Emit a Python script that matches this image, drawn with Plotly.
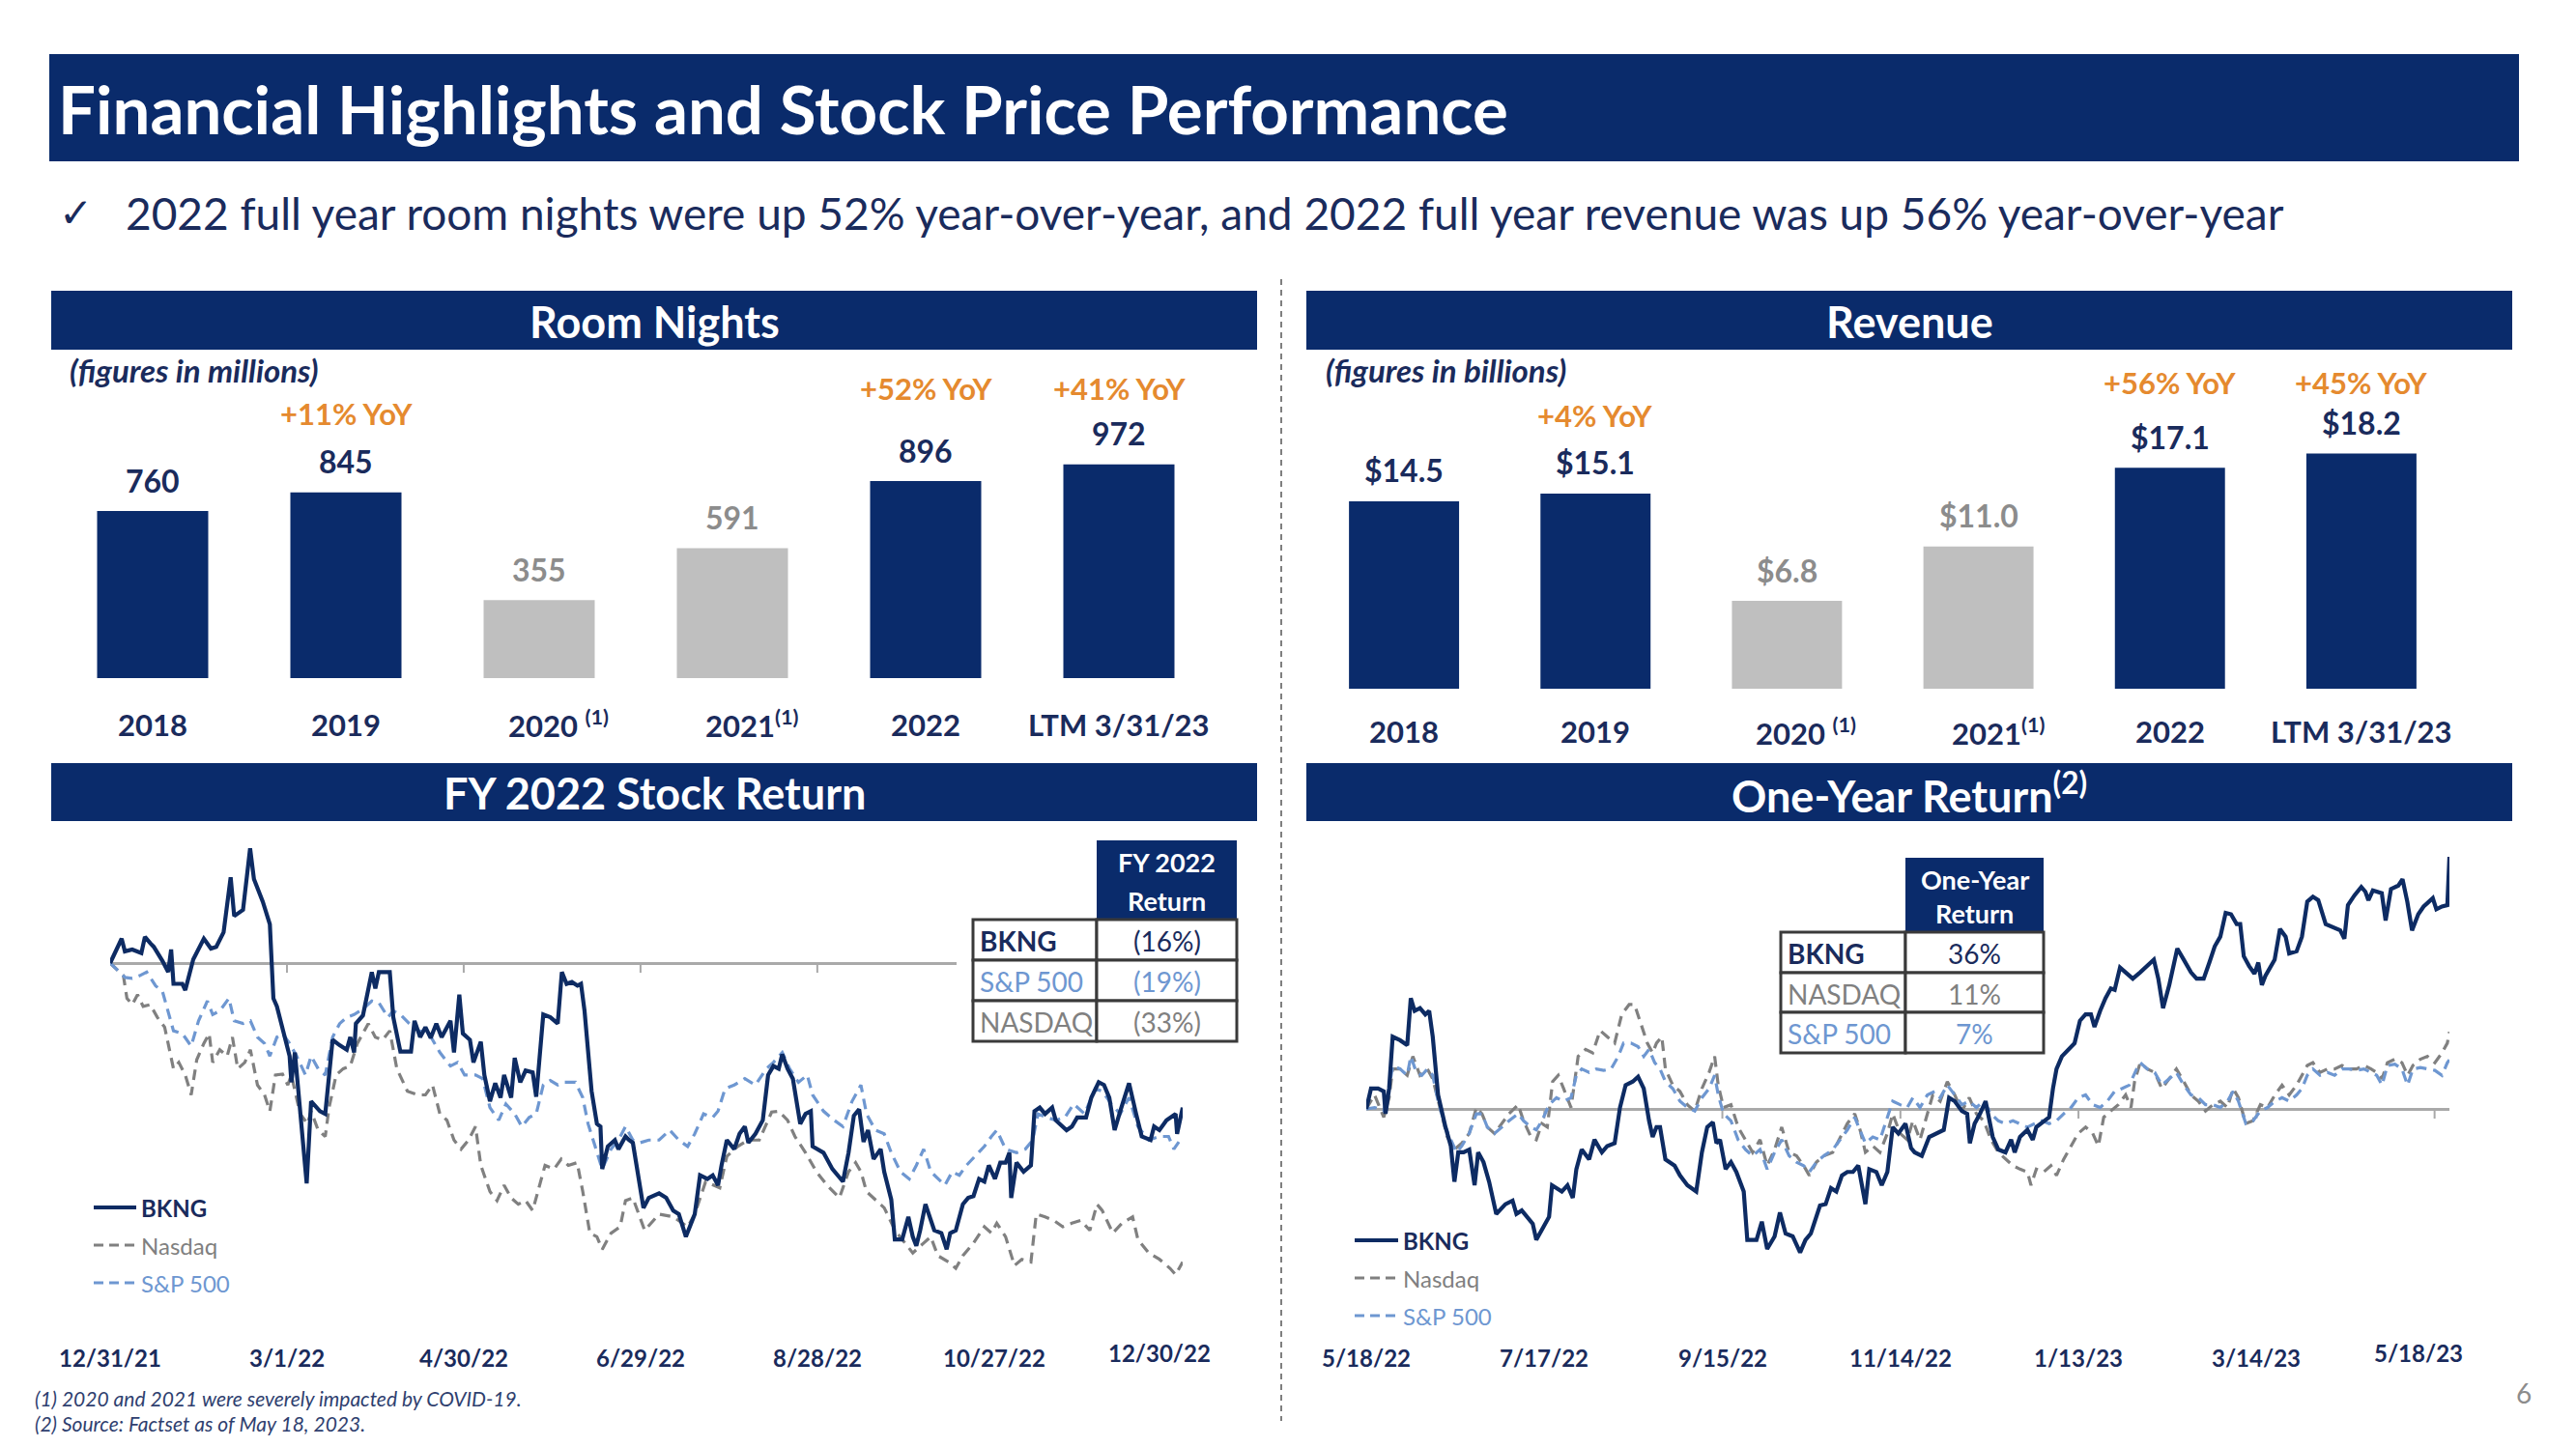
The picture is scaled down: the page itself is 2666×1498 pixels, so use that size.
import pandas as pd
import plotly.graph_objects as go

W, H = 2666, 1498
OFF = 8  # default page body margin
FW, FH = W - 2 * OFF, H - 2 * OFF


def px(x):
    return (x - OFF) / FW


def py(y):
    return 1 - (y - OFF) / FH


NAVY = "#0a2b6b"
LINE_NAVY = "#0d2b63"
TEXT_NAVY = "#1a2b5c"
GRAY_BAR = "#bfbfbf"
GRAY_TEXT = "#8c8c8c"
ORANGE = "#e58a2f"
NASDAQ_GRAY = "#808080"
SP_BLUE = "#6e97d1"
ZERO_GRAY = "#a9a9a9"
FONT = "Lato"

# ---------------- data ----------------
categories = ["2018", "2019", "2020", "2021", "2022", "LTM 3/31/23"]
category_text = ["2018", "2019", "2020 <sup>(1)</sup>", "2021<sup>(1)</sup>", "2022", "LTM 3/31/23"]
covid_years = ["2020", "2021"]

room_nights = [760, 845, 355, 591, 896, 972]
room_labels = ["760", "845", "355", "591", "896", "972"]
room_yoy_cats = ["2019", "2022", "LTM 3/31/23"]
room_yoy_text = ["+11% YoY", "+52% YoY", "+41% YoY"]

revenue = [14.5, 15.1, 6.8, 11.0, 17.1, 18.2]
revenue_labels = ["$14.5", "$15.1", "$6.8", "$11.0", "$17.1", "$18.2"]
rev_yoy_cats = ["2019", "2022", "LTM 3/31/23"]
rev_yoy_text = ["+4% YoY", "+56% YoY", "+45% YoY"]

# FY 2022 stock return (% change since 12/31/21), x = days after 12/31/21
fy_start = "2021-12-31"
fy_bkng_days = [0, 3.9, 5, 7.5, 10.6, 11.8, 13.6, 14.8, 17.8, 19.7, 20.7, 21.5, 24.5, 25.5, 28.2, 31.8, 34.2, 36,
                38.5, 40.9, 42.1, 45.1, 47.5, 48.8, 51.8, 54.2, 55.4, 56.6, 60.9, 61.5, 62.7, 66.7, 68.2, 71.2, 73,
                75.5, 77.9, 80.3, 81.5, 82.8, 83.4, 85.8, 88.8, 90, 91.2, 94.9, 96.1, 98.5, 102.1, 103.3, 105.2, 107,
                108.8, 110.7, 112.5, 115.5, 116.7, 118.5, 119.7, 122.1, 123.3, 125.8, 127, 128.9, 130.7, 132.5, 133.7,
                136.1, 137.3, 139.2, 141, 143.4, 144.6, 147, 149.4, 151.9, 153.3, 154.9, 156.7, 158.6, 159.8, 161,
                163.4, 165.2, 166.4, 167, 168.9, 171.3, 172.5, 174.9, 176.1, 177.4, 181, 182.8, 186.3, 188.7, 191.1,
                193, 195.4, 198.4, 200.2, 202.7, 204.5, 206.3, 207.5, 209.3, 211.8, 213.6, 215.4, 216.6, 219, 221.5,
                223.3, 225.1, 226.9, 228.1, 229.9, 231.7, 234.2, 236, 237.8, 238.4, 242.1, 245.1, 248.7, 250.6, 252.4,
                254.2, 255.7, 257.2, 259.1, 261.5, 262.7, 265.1, 266.3, 268.8, 270.9, 272.4, 273.6, 274.9, 276.7,
                279.7, 282.1, 283.9, 285.1, 287, 289.4, 291.2, 293, 294.9, 296.7, 298.2, 300.3, 302.1, 303.9, 305.2,
                305.8, 307.6, 310, 312.5, 313.7, 315.5, 317.3, 319.7, 320.9, 324.6, 326.4, 328.2, 331.2, 333, 335.5,
                337.3, 339.1, 340.9, 342.8, 345.8, 348.2, 350.1, 353.1, 354.3, 356.1, 358.5, 361.6, 362.1, 364]
fy_bkng_pct = [0.0, 2.7, 1.3, 1.5, 1.1, 2.9, 2.2, 1.8, 0.2, -1.0, 1.5, -2.3, -2.3, -3.0, 0.4, 2.7, 1.6, 1.8,
               3.4, 9.5, 5.2, 5.9, 12.7, 9.3, 6.8, 4.3, -3.9, -4.8, -10.3, -13.2, -9.9, -24.4, -15.3, -16.4, -16.7,
               -8.5, -9.1, -9.6, -8.2, -9.9, -6.7, -5.8, -1.0, -2.8, -1.0, -1.0, -6.0, -9.8, -9.8, -6.4, -8.2, -7.1,
               -8.3, -6.7, -8.2, -6.4, -9.9, -3.5, -7.8, -8.5, -11.0, -8.7, -12.4, -15.3, -13.3, -14.9, -12.4,
               -14.9, -10.5, -13.2, -11.9, -12.1, -14.8, -5.7, -6.0, -6.7, -1.0, -2.3, -2.1, -2.5, -2.3, -5.3,
               -14.2, -17.8, -18.1, -22.8, -20.3, -19.6, -20.6, -19.2, -19.6, -19.9, -27.1, -26.0, -25.5, -26.0, -27.4,
               -27.8, -30.3, -27.8, -23.5, -23.9, -23.5, -24.6, -22.4, -19.6, -20.6, -18.9, -18.1, -19.9, -18.9, -17.4,
               -12.4, -11.4, -11.7, -10.1, -11.7, -12.8, -17.8, -16.7, -16.4, -20.3, -21.0, -22.8, -24.2, -21.0, -16.9,
               -16.2, -19.8, -18.5, -21.7, -20.6, -23.1, -26.2, -30.6, -30.6, -28.1, -30.3, -31.3, -29.6, -26.7,
               -29.6, -29.9, -31.7, -29.9, -29.6, -26.7, -26.0, -25.8, -23.9, -24.2, -22.4, -23.9, -22.1, -22.1, -21.0,
               -26.0, -22.1, -23.1, -22.4, -16.4, -16.0, -16.7, -16.0, -17.4, -18.5, -18.1, -17.1, -17.1, -14.9, -13.2,
               -13.5, -14.9, -18.5, -16.4, -13.3, -16.7, -19.2, -19.6, -18.1, -18.5, -17.4, -16.7, -18.9, -16.0]

fy_nasdaq_days = [0, 4.5, 5.7, 7.5, 9.3, 11.2, 13.6, 16, 18.5, 19.7, 21.5, 23.3, 25.5, 27.5, 29.4, 31.8, 33.6, 34.8,
                  37.2, 39.7, 41.5, 43.3, 45.7, 47.6, 50, 52.4, 54.2, 56.1, 58.5, 60.3, 61.5, 64.5, 67, 68.2, 70.6,
                  73, 74.3, 76.7, 79.1, 81.5, 83.9, 87.6, 90, 92.5, 94.9, 97.3, 100.9, 104.6, 107, 109.4, 111.9, 114.3,
                  116.7, 119.1, 121.6, 124, 125.8, 128.9, 131.3, 133.7, 136.1, 138.5, 141, 143.4, 145.8, 147.6, 150.7,
                  153.1, 155.5, 158.5, 160.4, 162.8, 165.2, 167, 170, 173.1, 174.9, 177.4, 181.4, 186.3, 191.1, 196,
                  198.4, 202.1, 206.9, 209.3, 213, 216.6, 220.3, 224.5, 226.9, 229.9, 232.4, 236, 239.7, 243.3, 247.5,
                  250.6, 253, 254.8, 256.7, 259.1, 262.7, 266.4, 272.4, 276.1, 278.5, 280.9, 284.6, 287, 289.4, 293,
                  296.7, 299.1, 300.9, 303.9, 306.9, 309.4, 312.5, 314.3, 317.3, 320.3, 323.3, 326.4, 329.4, 332.5,
                  334.9, 336.7, 340.3, 343.4, 347, 348.8, 352.5, 356.1, 359.7, 361.6, 364]
fy_nasdaq_pct = [0, -1.4, -3.9, -4.6, -3.5, -4.8, -4.6, -6.0, -7.1, -8.9, -11.7, -11.0, -12.4, -14.6, -10.7, -8.9,
                 -7.8, -11.0, -9.6, -10.3, -8.2, -11.7, -11.0, -9.6, -13.5, -14.6, -16.4, -12.4, -12.3, -13.5, -12.4,
                 -16.7, -17.8, -16.4, -18.5, -19.2, -16.0, -12.4, -11.7, -11.4, -8.9, -6.7, -8.2, -8.5, -7.5, -11.7,
                 -14.2, -14.6, -14.6, -13.5, -16.7, -17.4, -19.6, -20.6, -19.6, -18.1, -22.4, -25.3, -26.3, -24.6,
                 -26.0, -26.7, -26.3, -27.4, -24.6, -22.4, -22.8, -21.7, -22.4, -22.1, -25.3, -29.9, -30.3, -31.7,
                 -29.9, -29.2, -26.3, -26.0, -29.6, -27.8, -28.1, -29.2, -27.8, -24.2, -24.9, -21.4, -20.3, -19.6,
                 -19.6, -16.5, -16.4, -17.4, -19.2, -21.0, -23.1, -24.6, -26.0, -23.1, -22.1, -23.1, -25.3, -26.0,
                 -27.1, -29.6, -32.1, -31.0, -30.3, -32.4, -33.1, -33.8, -32.4, -31.0, -29.2, -29.9, -28.8, -30.3,
                 -33.5, -32.8, -33.1, -27.8, -28.1, -28.5, -29.2, -28.8, -28.5, -29.6, -26.7, -27.4, -29.9, -28.8,
                 -28.1, -30.6, -32.1, -32.8, -33.8, -34.5, -33.1]

fy_sp_days = [0, 5.1, 7.5, 10, 12.4, 15.4, 17.8, 19.7, 21.5, 24.5, 27.5, 30, 33, 34.8, 37.2, 40.3, 42.1, 45.1, 47.6,
              50, 52.4, 54.2, 56.6, 58.5, 60.9, 63.3, 66.3, 68.2, 70.6, 73, 75.5, 77.9, 80.3, 82.8, 85.8, 88.8, 91.2,
              94.3, 96.1, 98.5, 101.5, 104.6, 108.2, 111.9, 115.5, 117.9, 120.3, 124, 126.4, 128.9, 131.9, 134.3,
              137.3, 139.7, 142.2, 144.6, 147, 149.4, 151.9, 154.3, 157.9, 160.4, 162.2, 164.6, 167, 170, 172.5,
              174.9, 177.4, 179.8, 182.8, 186.3, 189.9, 193, 196, 198.4, 201.4, 204.5, 206.3, 208.7, 211.8, 215.4,
              219, 222.7, 225.1, 228.1, 230.6, 233.6, 236.6, 238.4, 242.1, 245.7, 248.7, 251.8, 254.8, 256.7, 259.7,
              262.7, 265.1, 268.2, 271.2, 273.6, 276.1, 278.5, 280.9, 283.3, 285.8, 288.2, 290.6, 293.6, 296.7,
              299.1, 300.9, 303.9, 307.6, 310.6, 313.1, 314.9, 317.9, 320.9, 324, 327, 330.7, 334.3, 336.7, 339.8,
              342.8, 345.8, 348.8, 352.5, 356.1, 359.2, 361, 364]
fy_sp_pct = [0, -1.6, -1.7, -1.4, -1.0, -2.5, -3.2, -5.3, -7.5, -7.8, -9.2, -6.4, -4.2, -5.7, -5.3, -3.9, -6.4, -6.7,
             -6.4, -8.2, -8.9, -10.3, -8.2, -7.8, -8.9, -10.3, -12.4, -10.3, -11.7, -12.4, -8.2, -6.7, -6.0, -5.7,
             -5.1, -4.2, -4.4, -6.0, -5.3, -5.7, -6.7, -7.5, -7.8, -9.9, -11.4, -11.0, -12.4, -12.4, -12.8, -16.0,
             -17.4, -15.6, -16.7, -18.1, -17.1, -16.7, -13.5, -13.0, -13.5, -13.2, -13.2, -14.9, -17.8, -20.3, -22.8,
             -20.6, -19.6, -18.1, -19.6, -19.9, -19.6, -19.6, -18.5, -19.6, -20.3, -18.9, -16.7, -17.1, -16.4, -13.9,
             -13.5, -12.8, -13.5, -11.7, -11.0, -9.9, -11.7, -13.2, -12.4, -14.6, -16.4, -17.4, -18.1, -15.3, -13.5,
             -16.7, -18.5, -18.9, -21.0, -23.1, -23.9, -22.4, -20.6, -23.1, -23.9, -24.6, -23.1, -23.5, -22.4, -21.4,
             -20.3, -19.2, -18.5, -20.6, -21.0, -20.6, -19.6, -16.7, -17.1, -17.4, -17.1, -15.6, -16.7, -13.9, -14.2,
             -15.6, -16.7, -14.9, -18.1, -19.6, -19.2, -19.2, -20.6, -19.2]

# One-year return (% change since 5/18/22), x = days after 5/18/22
oy_start = "2022-05-18"
oy_bkng_days = [0, 1.6, 4, 5.9, 6.5, 7.7, 8.9, 11.4, 13.8, 15, 16.3, 18.1, 19.9, 21.2, 22.4, 24.2, 26.7, 28.5, 29.7,
                31, 32.8, 34.7, 36.5, 37.7, 39.5, 41.4, 43.8, 46.9, 49.3, 50.6, 52.4, 54.3, 56.1, 57.3, 59.2, 61.6,
                62.6, 64.1, 65.9, 67.8, 69.6, 70.8, 72.6, 75.1, 76.9, 79.4, 81.2, 83.7, 85.5, 87.4, 89.8, 91.6, 93.5,
                95.3, 96.5, 97.8, 99, 100.8, 103.9, 105.7, 108.2, 111.2, 113.1, 114.9, 116.8, 118, 119.2, 121.1, 122.9,
                124.7, 127.2, 128.4, 131.5, 133.3, 135.1, 137.6, 139.4, 141.3, 143.7, 146.2, 148, 149.8, 152.9, 154.8,
                156.6, 158.4, 160.3, 162.1, 164, 165.8, 168.2, 169.5, 171.9, 173.7, 175.6, 177.4, 179.3, 181.7, 183.6,
                184.8, 187.2, 189.7, 192.1, 194.6, 196.4, 198.3, 200.7, 202.5, 203.4, 205, 206.8, 208.7, 211.1, 213,
                215.4, 217.3, 218.5, 220.3, 222.8, 224.6, 225.8, 228.3, 230.1, 231.4, 232.6, 234.4, 236.9, 238.7,
                240.5, 242.4, 244.2, 245.4, 247.3, 249.1, 250.9, 252.2, 254, 255.9, 258.3, 260.8, 263.2, 265.4, 266.9,
                268.5, 270.6, 273.3, 275.5, 277.9, 279.8, 282.2, 284.1, 285.9, 287.8, 289.6, 291.4, 293.3, 294.5,
                295.7, 297.5, 299.3, 300.6, 301.8, 303, 304.9, 306.1, 307.9, 309.8, 311, 313.5, 315.3, 317.1, 319,
                320.8, 323.3, 325.7, 328.2, 329.6, 330.8, 333, 335.3, 336.7, 337.7, 339.2, 341, 342.2, 343.5, 345.3,
                347.8, 349.2, 350.8, 352.4, 354.5, 356.3, 357.6, 359.4, 360.6, 362.5, 364.3, 365]
oy_bkng_pct = [0, 2.9, 2.9, 2.5, -0.7, 2.9, 10.3, 9.8, 9.1, 15.8, 14.0, 14.4, 13.5, 14.0, 10.3, 2.0, -2.6, -5.3,
               -10.4, -6.2, -6.2, -5.8, -10.9, -6.2, -7.6, -10.4, -15.0, -13.6, -13.1, -15.0, -14.5, -15.4, -16.4,
               -18.7, -17.3, -15.4, -10.9, -11.3, -11.8, -10.9, -12.7, -8.6, -5.8, -7.2, -4.4, -6.2, -5.3, -4.9, 0.2,
               3.4, 3.9, 4.6, 2.9, -1.7, -4.0, -2.6, -2.6, -7.2, -8.1, -9.5, -10.9, -11.8, -6.2, -2.6, -1.9, -4.9,
               -4.4, -8.6, -7.6, -9.0, -11.8, -18.7, -18.7, -16.1, -20.0, -18.2, -14.8, -17.8, -18.2, -20.5, -18.7,
               -17.8, -13.8, -13.6, -11.3, -11.8, -9.5, -9.0, -9.0, -8.1, -13.6, -8.6, -9.0, -10.9, -9.0, -2.6, -3.5,
               -2.1, -5.6, -6.2, -6.7, -4.0, -3.5, -3.0, 1.6, 1.1, -0.3, -0.7, -4.9, -2.1, -0.7, 1.1, -4.0, -5.8,
               -6.2, -4.4, -6.2, -4.0, -3.0, -4.4, -2.6, -1.7, -1.2, 2.9, 5.7, 7.5, 8.5, 9.4, 12.6, 13.5, 13.5,
               11.7, 14.0, 15.8, 17.2, 17.0, 20.2, 19.5, 18.6, 19.5, 20.4, 21.3, 18.6, 14.4, 17.7, 22.9, 21.3, 19.5,
               18.6, 18.6, 20.9, 23.2, 24.6, 28.0, 27.8, 26.4, 26.4, 21.8, 20.4, 19.3, 20.9, 17.7, 19.0, 20.4, 21.3,
               25.7, 24.6, 22.2, 22.5, 24.6, 29.6, 30.3, 29.8, 26.4, 25.9, 25.5, 24.3, 29.1, 30.5, 31.7, 31.0, 29.8,
               31.2, 31.0, 30.8, 26.9, 31.4, 31.9, 32.8, 29.6, 25.5, 27.8, 28.9, 29.4, 30.1, 28.5, 28.9, 29.1, 36.0]

oy_nasdaq_days = [0, 2.8, 5.9, 7.7, 8.9, 11.4, 13.8, 15.7, 18.1, 20.6, 22.4, 24.9, 27.3, 29.7, 32.2, 34.7, 37.1, 39,
                  40.8, 43.2, 45.7, 48.1, 51.2, 53, 55.5, 57.3, 59.2, 61, 62.8, 64.7, 66.5, 69, 71.4, 73.9, 76.3,
                  78.8, 81.2, 83.7, 86.1, 88.6, 90.4, 92.3, 94.7, 96.5, 97.8, 99.6, 100.8, 103.3, 105.7, 108.2, 110.7,
                  113.1, 115.5, 117.4, 118.6, 120.4, 122.9, 125.3, 127.8, 130.2, 132.7, 135.1, 137.6, 140, 142.5, 145,
                  147.4, 149.3, 151.7, 154.2, 157.2, 159.7, 162.1, 164.6, 166.4, 168.2, 170.7, 173.1, 175.6, 177.4,
                  179.9, 182.3, 184.2, 186.6, 189.1, 190.9, 193.4, 195.8, 198.3, 200.7, 203.2, 205.6, 208.1, 210.5,
                  213, 215.4, 217.9, 220.3, 222.8, 224, 225.8, 228.3, 230.7, 232.6, 235, 237.5, 239.9, 242.4, 244.8,
                  246.7, 248.5, 250.9, 253.4, 255.9, 257.7, 258.9, 260.8, 263.2, 265.7, 268.1, 270.6, 273, 275.5,
                  277.9, 280.4, 282.8, 285.3, 287.8, 290.2, 292.1, 293.9, 296.4, 298.8, 301.3, 303.7, 306.2, 308.6,
                  311, 313.5, 315.3, 317.1, 319, 321.4, 323.9, 326.3, 328.8, 331.2, 333.7, 336.2, 338.6, 340.5, 342.3,
                  344.1, 346.6, 349, 350.9, 352.7, 355.2, 357.6, 360.1, 362.5, 364.3, 365]
oy_nasdaq_pct = [0, 2.0, -1.2, 1.6, 5.7, 5.7, 4.8, 7.5, 4.8, 5.7, 4.3, 0.2, -4.0, -5.8, -4.9, -3.5, 0.2, -0.7, -2.6,
                 -3.5, -2.1, -0.7, 0.6, -1.7, -4.0, -4.4, -2.1, -2.6, 3.9, 4.8, 2.9, 0.2, 7.5, 8.5, 8.0, 11.2, 10.3,
                 9.4, 13.5, 14.9, 14.9, 12.6, 9.4, 8.0, 9.4, 10.3, 5.7, 3.4, 2.5, 0.6, -0.3, 2.9, 5.2, 7.5, 3.4, 0.2,
                 0.6, -2.6, -4.4, -6.2, -4.4, -8.1, -5.8, -2.6, -6.2, -6.7, -8.1, -9.5, -7.6, -6.7, -6.2, -4.0, -2.1,
                 -0.7, -3.0, -6.2, -5.3, -6.2, -3.5, -0.7, -3.5, -4.4, -1.7, -4.4, -0.7, 2.0, 1.1, 3.9, 2.0, -0.3, 1.6,
                 -0.7, -1.7, -4.4, -6.2, -7.2, -8.1, -8.6, -9.0, -10.9, -8.6, -9.0, -8.1, -9.5, -7.2, -5.3, -3.5, -2.6,
                 -3.5, -5.3, -1.2, -0.3, 0.6, 2.0, 0.2, 3.9, 6.6, 5.7, 5.2, 2.9, 4.3, 5.7, 3.9, 2.0, 1.1, -0.3, 0.6,
                 1.1, 0.2, 2.9, 1.6, -2.1, -1.7, 0.6, 0.2, 2.0, 3.4, 2.0, 3.4, 4.8, 6.2, 6.6, 5.2, 5.7, 5.7, 6.2, 5.7,
                 5.7, 6.2, 5.7, 5.2, 4.3, 6.6, 7.1, 6.6, 4.8, 6.2, 7.1, 7.5, 6.6, 8.0, 9.4, 11.0]

oy_sp_days = [0, 2.8, 5.9, 7.7, 8.9, 11.4, 13.8, 15, 16.9, 18.7, 20.6, 22.4, 24.2, 26.7, 28.5, 30.4, 32.2, 34.7, 37.1,
              39, 40.8, 43.2, 45.7, 48.1, 51.2, 53, 55.5, 57.3, 59.2, 61.6, 64.1, 66.5, 69, 70.8, 72.6, 75.1, 77.5,
              80, 82.5, 84.9, 86.7, 89.2, 91.6, 93.5, 95.3, 97.2, 99, 100.8, 103.3, 105.7, 108.2, 110.7, 113.1, 115.5,
              117.4, 118.6, 120.4, 122.9, 125.3, 127.8, 130.2, 132.7, 135.1, 137.6, 140, 142.5, 145, 147.4, 149.3,
              151.7, 154.2, 157.2, 159.7, 162.1, 164.6, 166.4, 168.2, 170.7, 173.1, 175.6, 177.4, 179.9, 182.3, 184.2,
              186.6, 189.1, 191.5, 193.4, 195.8, 198.3, 200.7, 203.2, 205.6, 208.1, 210.5, 213, 215.4, 217.9, 220.3,
              222.8, 225.2, 227.7, 230.1, 232.6, 235, 237.5, 239.9, 242.4, 244.8, 247.3, 249.7, 252.2, 254.6, 257.1,
              259.6, 260.8, 263.2, 265.7, 268.1, 270.6, 273, 275.5, 277.9, 280.4, 282.8, 285.3, 287.8, 290.2, 292.1,
              293.9, 296.4, 298.8, 301.3, 303.7, 306.2, 308.6, 311, 313.5, 315.3, 317.1, 319, 321.4, 323.9, 326.3,
              328.8, 331.2, 333.7, 336.2, 338.6, 340.5, 342.3, 344.1, 346.6, 349, 350.9, 352.7, 355.2, 357.6, 360.1,
              362.5, 364.3, 365]
oy_sp_pct = [0, 0.2, -0.3, 2.9, 6.2, 5.7, 4.8, 7.5, 5.2, 4.8, 5.7, 4.8, 1.1, -2.6, -4.4, -6.2, -5.3, -3.5, -0.7, -0.7,
             -2.6, -3.5, -2.6, -1.7, -0.7, -1.7, -2.6, -3.0, -1.7, 0.6, 1.6, 1.1, 1.6, 4.8, 5.7, 5.2, 5.7, 5.5, 5.7,
             7.5, 9.4, 9.4, 8.9, 7.5, 8.5, 6.6, 5.7, 3.9, 2.9, 1.1, 0.2, -0.3, 1.6, 2.9, 4.8, 2.0, -0.7, -1.7, -4.4,
             -5.8, -6.7, -5.8, -8.6, -6.2, -4.4, -6.7, -7.6, -8.1, -9.0, -7.6, -6.7, -5.8, -4.4, -3.0, -1.2, -3.0,
             -4.9, -4.0, -4.4, -1.2, 1.1, 0.6, 0.2, 1.6, 0.2, 2.0, 2.5, 1.6, 3.4, 2.0, 0.6, 1.1, 0.2, 1.1, -0.7, -1.7,
             -2.1, -1.7, -2.1, -2.6, -2.1, -1.7, -2.1, -1.7, -0.7, 0.2, 1.6, 2.0, 0.6, 0.2, 1.1, 2.5, 2.9, 3.4, 5.7,
             6.6, 5.7, 5.2, 3.4, 4.3, 5.2, 3.4, 2.0, 1.6, 0.6, 0.6, 0.2, 1.1, 2.5, 1.1, -2.1, -1.7, -0.3, 0.2, 1.1,
             1.6, 1.1, 2.0, 2.9, 4.8, 5.7, 4.8, 5.2, 4.8, 5.7, 5.7, 5.5, 5.7, 5.2, 4.8, 3.4, 6.2, 6.4, 5.7, 3.4, 5.7,
             5.9, 5.7, 5.5, 4.8, 6.6, 7.0]

fy_tick_dates = ["2021-12-31", "2022-03-01", "2022-04-30", "2022-06-29", "2022-08-28", "2022-10-27"]
fy_tick_text = ["12/31/21", "3/1/22", "4/30/22", "6/29/22", "8/28/22", "10/27/22"]
fy_end_label = ("2022-12-30", "12/30/22")
fy_minor_ticks = ["2022-03-01", "2022-04-30", "2022-06-29", "2022-08-28", "2022-10-27", "2022-12-26"]

oy_tick_dates = ["2022-05-18", "2022-07-17", "2022-09-15", "2022-11-14", "2023-01-13", "2023-03-14"]
oy_tick_text = ["5/18/22", "7/17/22", "9/15/22", "11/14/22", "1/13/23", "3/14/23"]
oy_end_label = ("2023-05-18", "5/18/23")
oy_minor_ticks = ["2022-07-17", "2022-09-15", "2022-11-14", "2023-01-13", "2023-03-14", "2023-05-13"]

fy_table_names = ["BKNG", "S&P 500", "NASDAQ"]
fy_table_values = ["(16%)", "(19%)", "(33%)"]
oy_table_names = ["BKNG", "NASDAQ", "S&P 500"]
oy_table_values = ["36%", "11%", "7%"]


def to_dates(start, days):
    return pd.Timestamp(start) + pd.to_timedelta(days, unit="D")


# ---------------- figure ----------------
fig = go.Figure()

bar_colors = [GRAY_BAR if c in covid_years else NAVY for c in categories]
fig.add_trace(go.Bar(x=categories, y=room_nights, marker=dict(color=bar_colors, line=dict(width=0)),
                     xaxis="x", yaxis="y", showlegend=False, hoverinfo="skip"))
fig.add_trace(go.Bar(x=categories, y=revenue, marker=dict(color=bar_colors, line=dict(width=0)),
                     xaxis="x2", yaxis="y2", showlegend=False, hoverinfo="skip"))

DASH = "11px,7px"
series_fy = [
    (fy_nasdaq_days, fy_nasdaq_pct, NASDAQ_GRAY, DASH, 3.2),
    (fy_sp_days, fy_sp_pct, SP_BLUE, DASH, 3.2),
    (fy_bkng_days, fy_bkng_pct, LINE_NAVY, "solid", 4.2),
]
for d, v, c, dash, w in series_fy:
    fig.add_trace(go.Scatter(x=to_dates(fy_start, d), y=v, mode="lines",
                             line=dict(color=c, width=w, dash=dash), xaxis="x3", yaxis="y3",
                             showlegend=False, hoverinfo="skip"))
series_oy = [
    (oy_nasdaq_days, oy_nasdaq_pct, NASDAQ_GRAY, DASH, 3.2),
    (oy_sp_days, oy_sp_pct, SP_BLUE, DASH, 3.2),
    (oy_bkng_days, oy_bkng_pct, LINE_NAVY, "solid", 4.2),
]
for d, v, c, dash, w in series_oy:
    fig.add_trace(go.Scatter(x=to_dates(oy_start, d), y=v, mode="lines",
                             line=dict(color=c, width=w, dash=dash), xaxis="x4", yaxis="y4",
                             showlegend=False, hoverinfo="skip"))

hidden = dict(showgrid=False, zeroline=False, showticklabels=False, ticks="", showline=False, fixedrange=True)
cat_range = [-0.5, len(categories) - 0.5]

fig.update_layout(
    width=FW, height=FH,
    margin=dict(l=0, r=0, t=0, b=0),
    paper_bgcolor="white", plot_bgcolor="rgba(0,0,0,0)",
    bargap=0.425,
    xaxis=dict(domain=[px(58), px(1258)], anchor="y", type="category", range=cat_range, **hidden),
    yaxis=dict(domain=[py(702), py(380)], range=[0, (702 - 380) / 0.2276], anchor="x", **hidden),
    xaxis2=dict(domain=[px(1354), px(2543)], anchor="y2", type="category", range=cat_range, **hidden),
    yaxis2=dict(domain=[py(713), py(380)], range=[0, (713 - 380) / 13.38], anchor="x2", **hidden),
    xaxis3=dict(domain=[px(114), px(1224)], anchor="y3", type="date", range=["2021-12-31", "2022-12-30"], **hidden),
    yaxis3=dict(domain=[py(1340), py(860)], range=[-(1340 - 997) / 9.35, (997 - 860) / 9.35], anchor="x3",
                showgrid=False, showticklabels=False, ticks="", showline=False, fixedrange=True,
                zeroline=True, zerolinecolor=ZERO_GRAY, zerolinewidth=2.5),
    xaxis4=dict(domain=[px(1414), px(2535)], anchor="y4", type="date", range=["2022-05-18", "2023-05-18"], **hidden),
    yaxis4=dict(domain=[py(1330), py(870)], range=[-(1330 - 1148) / 7.25, (1148 - 870) / 7.25], anchor="x4",
                showgrid=False, showticklabels=False, ticks="", showline=False, fixedrange=True,
                zeroline=True, zerolinecolor=ZERO_GRAY, zerolinewidth=2.5),
)

shapes = []
ann = []


def rect(x0, y0, x1, y1, fill, line_color=None, lw=0, layer="above"):
    shapes.append(dict(type="rect", xref="paper", yref="paper", x0=px(x0), x1=px(x1), y0=py(y1), y1=py(y0),
                       fillcolor=fill, line=dict(color=line_color or fill, width=lw), layer=layer))


def text(x, y, s, size, color, weight="normal", style="normal", xanchor="center", family=FONT):
    ann.append(dict(x=px(x), y=py(y), xref="paper", yref="paper", text=s, showarrow=False,
                    xanchor=xanchor, yanchor="middle",
                    font=dict(family=family, size=size, color=color, weight=weight, style=style)))


# Title
rect(51, 56, 2607, 167, NAVY)
text(58, 113, "Financial Highlights and Stock Price Performance", 69, "white", weight="bold", xanchor="left")
text(78, 221, "\u2713", 42, TEXT_NAVY, family="DejaVu Sans")
text(128, 221, "2022 full year room nights were up 52% year-over-year, and 2022 full year revenue was up 56% "
               "year-over-year", 46, TEXT_NAVY, xanchor="left")

# Section headers
for (x0, x1, y0, y1, s) in [(53, 1301, 301, 362, "Room Nights"), (1352, 2600, 301, 362, "Revenue"),
                            (53, 1301, 790, 850, "FY 2022 Stock Return"),
                            (1352, 2600, 790, 850, "One-Year Return<sup>(2)</sup>")]:
    rect(x0, y0, x1, y1, NAVY)
    text((x0 + x1) / 2, (y0 + y1) / 2 + 1, s, 45, "white", weight="bold")

# Separator
shapes.append(dict(type="line", xref="paper", yref="paper", x0=px(1326), x1=px(1326), y0=py(289), y1=py(1471),
                   line=dict(color="#7f7f7f", width=2, dash="6px,5px")))

# Bar charts annotations
text(70, 383, "(figures in millions)", 33, TEXT_NAVY, weight="bold", style="italic", xanchor="left")
text(1370, 383, "(figures in billions)", 33, TEXT_NAVY, weight="bold", style="italic", xanchor="left")

for axis, yaxis, vals, labels, cat_y in [("x", "y", room_nights, room_labels, 750),
                                         ("x2", "y2", revenue, revenue_labels, 757)]:
    for i, (c, ct, v, lab) in enumerate(zip(categories, category_text, vals, labels)):
        col = GRAY_TEXT if c in covid_years else TEXT_NAVY
        ann.append(dict(x=i, y=v, xref=axis, yref=yaxis, text=lab, showarrow=False, yshift=32,
                        yanchor="middle", font=dict(family=FONT, size=32, color=col, weight="bold")))
        shift = 20 if c in covid_years else 0
        ann.append(dict(x=i, y=py(cat_y), xref=axis, yref="paper", text=ct, showarrow=False, xshift=shift,
                        yanchor="middle", font=dict(family=FONT, size=31, color=TEXT_NAVY, weight="bold")))

for axis, cats, txts, ys in [("x", room_yoy_cats, room_yoy_text, [428, 402, 402]),
                             ("x2", rev_yoy_cats, rev_yoy_text, [430, 396, 396])]:
    for c, t, yy in zip(cats, txts, ys):
        ann.append(dict(x=categories.index(c), y=py(yy), xref=axis, yref="paper", text=t, showarrow=False,
                        yanchor="middle", font=dict(family=FONT, size=31, color=ORANGE, weight="bold")))

# Line charts: date labels, ticks
for axis, dates, labels, end_label, minor, zero_y, ypos, end_shift in [
        ("x3", fy_tick_dates, fy_tick_text, fy_end_label, fy_minor_ticks, 997, 1405, -24),
        ("x4", oy_tick_dates, oy_tick_text, oy_end_label, oy_minor_ticks, 1148, 1405, -32)]:
    for d, lab in zip(dates, labels):
        ann.append(dict(x=d, y=py(ypos), xref=axis, yref="paper", text=lab, showarrow=False, yanchor="middle",
                        font=dict(family=FONT, size=24, color=TEXT_NAVY, weight="bold")))
    ann.append(dict(x=end_label[0], y=py(ypos - 5), xref=axis, yref="paper", text=end_label[1], showarrow=False,
                    yanchor="middle", xshift=end_shift,
                    font=dict(family=FONT, size=24, color=TEXT_NAVY, weight="bold")))
    for d in minor:
        shapes.append(dict(type="line", xref=axis, yref="paper", x0=d, x1=d, y0=py(zero_y), y1=py(zero_y + 10),
                           line=dict(color=ZERO_GRAY, width=2), layer="below"))

# Legends
for (lx0, lx1, ys) in [(97, 141, [1250, 1289, 1328]), (1402, 1447, [1284, 1323, 1362])]:
    items = [("BKNG", LINE_NAVY, "solid", 4.2, "bold"), ("Nasdaq", NASDAQ_GRAY, "10px,6px", 3, "normal"),
             ("S&P 500", SP_BLUE, "10px,6px", 3, "normal")]
    for (name, col, dash, w, wt), yy in zip(items, ys):
        shapes.append(dict(type="line", xref="paper", yref="paper", x0=px(lx0), x1=px(lx1), y0=py(yy), y1=py(yy),
                           line=dict(color=col, width=w, dash=dash)))
        text(lx1 + 3, yy, name, 24, TEXT_NAVY if name == "BKNG" else col, weight=wt, xanchor="left")


# Tables
def table(xl, xm, xr, y_head, y_rows, names, values, colors, header_lines, header_ys, cover=None):
    if cover:
        rect(*cover, "white")
    rect(xm, y_head, xr, y_rows[0], NAVY)
    for hl, hy in zip(header_lines, header_ys):
        text((xm + xr) / 2, hy, hl, 27, "white", weight="bold")
    for i, (n, v, c) in enumerate(zip(names, values, colors)):
        y0, y1 = y_rows[i], y_rows[i + 1]
        rect(xl, y0, xm, y1, "white", "#3a3a3a", 3)
        rect(xm, y0, xr, y1, "white", "#3a3a3a", 3)
        text(xl + 5, (y0 + y1) / 2 + 1, n, 28, c, weight="bold" if n == "BKNG" else "normal", xanchor="left")
        text((xm + xr) / 2, (y0 + y1) / 2 + 1, v, 28, c)


name_colors = {"BKNG": TEXT_NAVY, "S&P 500": SP_BLUE, "NASDAQ": NASDAQ_GRAY}
table(1007, 1135, 1280, 870, [952, 994, 1036, 1078], fy_table_names, fy_table_values,
      [name_colors[n] for n in fy_table_names], ["FY 2022", "Return"], [892, 933],
      cover=(990, 864, 1290, 1084))
table(1843, 1972, 2115, 888, [965, 1007, 1048, 1090], oy_table_names, oy_table_values,
      [name_colors[n] for n in oy_table_names], ["One-Year", "Return"], [910, 945])

# Footnotes
text(34, 1447, "(1) 2020 and 2021 were severely impacted by COVID-19.", 21, "#2f3f6f", style="italic", xanchor="left")
text(34, 1473, "(2) Source: Factset as of May 18, 2023.", 21, "#2f3f6f", style="italic", xanchor="left")
text(2612, 1442, "6", 28, GRAY_TEXT)

fig.update_layout(shapes=shapes, annotations=ann)
fig.write_html("out.html")
